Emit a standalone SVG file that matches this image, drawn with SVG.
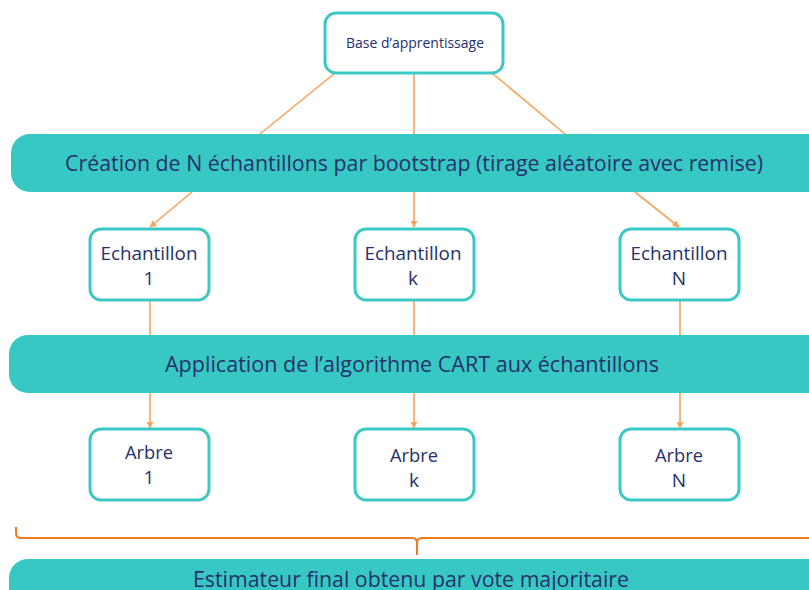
<svg xmlns="http://www.w3.org/2000/svg" width="809" height="590" viewBox="0 0 809 590">
<style>
.box{fill:#fff;stroke:#3CC8C4;stroke-width:3}
.band{fill:#38C8C4}
.t{font-family:"Open Sans","Noto Sans","DejaVu Sans",sans-serif;fill:#26306A;text-anchor:middle}
.c{stroke:#F9A25C;stroke-width:1.6;fill:none}
.br{stroke:#F07A1E;stroke-width:2;fill:none}
</style>
<defs>
<marker id="ah" viewBox="0 0 10 10" refX="9" refY="5" markerWidth="7" markerHeight="7" orient="auto" markerUnits="userSpaceOnUse">
<path d="M0,0 L10,5 L0,10 z" fill="#F9A25C"/>
</marker>
</defs>
<rect width="809" height="590" fill="#fff"/>
<g id="connectors">
<line class="c" x1="335" y1="73" x2="260" y2="134"/>
<line class="c" x1="414" y1="73" x2="414" y2="134"/>
<line class="c" x1="492" y1="73" x2="565" y2="134"/>
<line class="c" x1="192" y1="192" x2="150" y2="227" marker-end="url(#ah)"/>
<line class="c" x1="414" y1="192" x2="414" y2="227" marker-end="url(#ah)"/>
<line class="c" x1="635" y1="192" x2="679" y2="227" marker-end="url(#ah)"/>
<line class="c" x1="150" y1="300" x2="150" y2="335"/>
<line class="c" x1="414" y1="300" x2="414" y2="335"/>
<line class="c" x1="680" y1="300" x2="680" y2="335"/>
<line class="c" x1="150" y1="393" x2="150" y2="428" marker-end="url(#ah)"/>
<line class="c" x1="414" y1="393" x2="414" y2="428" marker-end="url(#ah)"/>
<line class="c" x1="680" y1="393" x2="680" y2="428" marker-end="url(#ah)"/>
<path class="br" d="M16,527 V533 Q16,538 21,538 H412 Q417,538 417,543 V555 M417,543 Q417,538 422,538 H812"/>
</g>
<g id="base">
<rect class="box" x="325" y="13" width="178" height="60" rx="11"/>
<text class="t" x="415" y="48" font-size="14" textLength="138" lengthAdjust="spacingAndGlyphs">Base d’apprentissage</text>
</g>
<g id="bootstrap">
<rect class="band" x="11" y="134" width="820" height="58" rx="19"/>
<text class="t" x="414" y="171" font-size="21" textLength="698" lengthAdjust="spacingAndGlyphs">Création de N échantillons par bootstrap (tirage aléatoire avec remise)</text>
</g>
<g id="ech1">
<rect class="box" x="90" y="229" width="119" height="71" rx="11"/>
<text class="t" x="149" y="260" font-size="19" textLength="97" lengthAdjust="spacingAndGlyphs">Echantillon</text>
<text class="t" x="149" y="285" font-size="19">1</text>
</g>
<g id="echk">
<rect class="box" x="355" y="229" width="119" height="71" rx="11"/>
<text class="t" x="413" y="260" font-size="19" textLength="97" lengthAdjust="spacingAndGlyphs">Echantillon</text>
<text class="t" x="413" y="285" font-size="19">k</text>
</g>
<g id="echN">
<rect class="box" x="620" y="229" width="119" height="71" rx="11"/>
<text class="t" x="679" y="260" font-size="19" textLength="97" lengthAdjust="spacingAndGlyphs">Echantillon</text>
<text class="t" x="679" y="285" font-size="19">N</text>
</g>
<g id="cart">
<rect class="band" x="9" y="335" width="820" height="58" rx="19"/>
<text class="t" x="412" y="372" font-size="21" textLength="494" lengthAdjust="spacingAndGlyphs">Application de l’algorithme CART aux échantillons</text>
</g>
<g id="arbre1">
<rect class="box" x="90" y="429" width="119" height="71" rx="11"/>
<text class="t" x="149" y="459" font-size="19" textLength="48" lengthAdjust="spacingAndGlyphs">Arbre</text>
<text class="t" x="149" y="484" font-size="19">1</text>
</g>
<g id="arbrek">
<rect class="box" x="355" y="429" width="119" height="71" rx="11"/>
<text class="t" x="414" y="462" font-size="19" textLength="48" lengthAdjust="spacingAndGlyphs">Arbre</text>
<text class="t" x="414" y="487" font-size="19">k</text>
</g>
<g id="arbreN">
<rect class="box" x="620" y="429" width="119" height="71" rx="11"/>
<text class="t" x="679" y="462" font-size="19" textLength="48" lengthAdjust="spacingAndGlyphs">Arbre</text>
<text class="t" x="679" y="487" font-size="19">N</text>
</g>
<g id="estimateur">
<rect class="band" x="9" y="559" width="820" height="58" rx="19"/>
<text class="t" x="411" y="587" font-size="21" textLength="436" lengthAdjust="spacingAndGlyphs">Estimateur final obtenu par vote majoritaire</text>
</g>
</svg>
